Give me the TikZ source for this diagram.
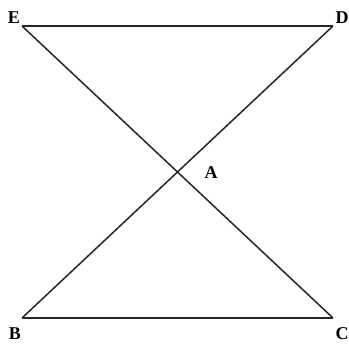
\documentclass[tikz,border=0pt]{standalone}
\usepackage{fontspec}
\setmainfont{Liberation Serif}
\begin{document}
\begin{tikzpicture}[x=1pt,y=-1pt,
  lbl/.style={font=\bfseries\fontsize{18}{18}\selectfont,inner sep=0pt},
  seg/.style={line width=1.5pt,black!85}]
\useasboundingbox (0,0) rectangle (349,346);
\coordinate (E) at (22,26);
\coordinate (D) at (333,26);
\coordinate (B) at (22,318);
\coordinate (C) at (333,318);
\coordinate (A) at (177.5,172);
\draw[seg] (E) -- (D);
\draw[seg] (B) -- (C);
\draw[seg] (E) -- (A) -- (C);
\draw[seg] (D) -- (A) -- (B);
\node[lbl] (lE) at (14,18) {E};
\node[lbl] (lD) at (342,18) {D};
\node[lbl] (lA) at (211,173) {A};
\node[lbl] (lB) at (15,334) {B};
\node[lbl] (lC) at (342,334) {C};
\end{tikzpicture}
\end{document}
